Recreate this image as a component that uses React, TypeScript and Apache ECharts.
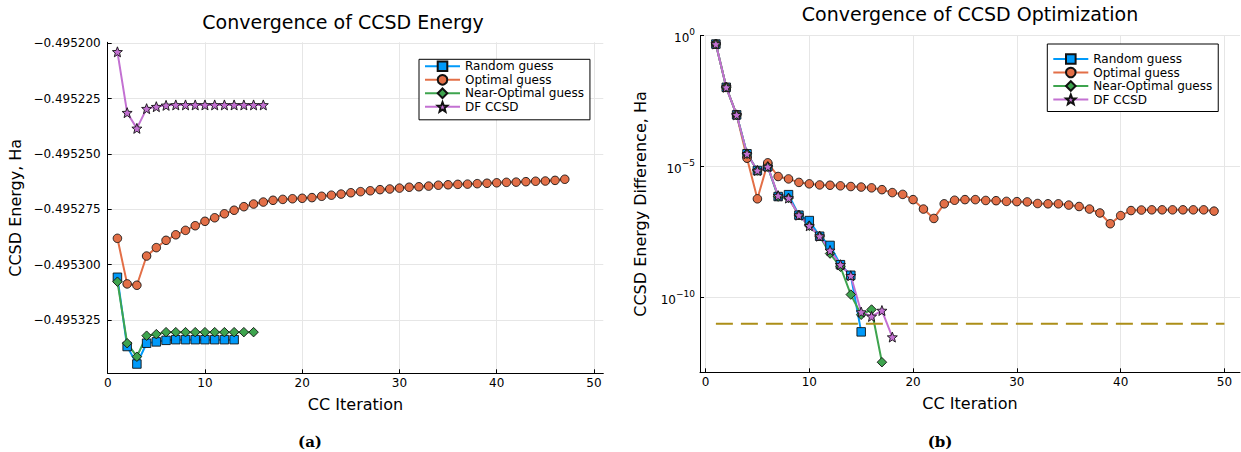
import { useEffect, useRef } from "react";
import * as echarts from "echarts";

// ---- CCSD energy per iteration (Ha) ----
const energyRandom = [
  -0.4953057, -0.495337, -0.4953449, -0.4953355, -0.4953349, -0.4953342, -0.4953339,
  -0.4953339, -0.4953339, -0.4953339, -0.4953339, -0.4953339, -0.4953339,
];
const energyOptimal = [
  -0.4952881, -0.4953087, -0.4953093, -0.4952961, -0.4952923, -0.495289, -0.4952865,
  -0.4952845, -0.4952824, -0.4952804, -0.4952788, -0.495277, -0.4952754, -0.4952738,
  -0.4952726, -0.4952717, -0.4952709, -0.4952705, -0.4952702, -0.49527, -0.4952697,
  -0.4952691, -0.4952686, -0.4952681, -0.4952675, -0.495267, -0.4952666, -0.4952661,
  -0.4952658, -0.4952654, -0.495265, -0.4952648, -0.4952645, -0.4952641, -0.4952639,
  -0.4952637, -0.4952636, -0.4952634, -0.4952632, -0.495263, -0.4952628, -0.4952627,
  -0.4952625, -0.4952623, -0.4952622, -0.4952619, -0.4952614,
];
const energyNearOptimal = [
  -0.4953077, -0.4953355, -0.4953416, -0.4953321, -0.4953314, -0.4953305, -0.4953305,
  -0.4953305, -0.4953305, -0.4953305, -0.4953305, -0.4953305, -0.4953305, -0.4953305,
  -0.4953305,
];
const energyDF = [
  -0.4952038, -0.4952313, -0.4952384, -0.4952295, -0.4952286, -0.495228, -0.4952278,
  -0.4952278, -0.4952278, -0.4952278, -0.4952278, -0.4952278, -0.4952278, -0.4952278,
  -0.4952278, -0.4952278,
];

// ---- energy difference between successive iterations (Ha) ----
const diffRandom = [
  4.8e-1, 1.07e-2, 9.5e-4, 3.1e-5, 7.1e-6, 1.0e-5, 7.2e-7, 8.5e-7, 1.4e-7, 8.7e-8,
  2.2e-8, 9.8e-9, 1.8e-9, 7.1e-10, 4.9e-12,
];
const diffOptimal = [
  4.8e-1, 1.07e-2, 9.5e-4, 2.1e-5, 5.9e-7, 1.4e-5, 4.2e-6, 3.4e-6, 2.5e-6, 2.2e-6,
  2.0e-6, 1.95e-6, 1.85e-6, 1.74e-6, 1.66e-6, 1.55e-6, 1.32e-6, 1.02e-6, 8.7e-7, 5.5e-7,
  2.4e-7, 1.05e-7, 3.8e-7, 5.2e-7, 5.5e-7, 5.5e-7, 5.1e-7, 5.0e-7, 4.7e-7, 4.6e-7,
  4.5e-7, 3.9e-7, 3.8e-7, 3.8e-7, 3.4e-7, 3.0e-7, 2.4e-7, 1.7e-7, 6.6e-8, 1.35e-7,
  2.1e-7, 2.2e-7, 2.24e-7, 2.24e-7, 2.24e-7, 2.24e-7, 2.24e-7, 2.24e-7, 2.0e-7,
];
const diffNearOptimal = [
  4.8e-1, 1.07e-2, 9.5e-4, 3.1e-5, 7.1e-6, 1.0e-5, 7.2e-7, 6.3e-7, 1.4e-7, 5.5e-8,
  2.2e-8, 4.8e-9, 1.5e-9, 1.3e-10, 2.2e-11, 3.5e-11, 3.4e-13,
];
const diffDF = [
  4.8e-1, 1.07e-2, 9.5e-4, 3.1e-5, 7.1e-6, 1.0e-5, 7.8e-7, 6.3e-7, 1.4e-7, 5.5e-8,
  2.2e-8, 6.3e-9, 1.8e-9, 6.8e-10, 2.8e-11, 1.9e-11, 3.2e-11, 3.1e-12,
];
const convergenceThreshold = 1e-11;
const thresholdIterations = [1, 50];

// ---- ticks ----
const iterationTicks = [0, 10, 20, 30, 40, 50];
const energyTicks = [-0.4952, -0.495225, -0.49525, -0.495275, -0.4953, -0.495325];
const diffTicks = [1e-10, 1e-5, 1];

const seriesNames = ["Random guess", "Optimal guess", "Near-Optimal guess", "DF CCSD"];
const colors = ["#009AFA", "#E36F47", "#3EA44E", "#C371D2"];
const thresholdColor = "#AC8E18";

const STAR =
  "path://M0,-10L2.6,-3.4L9.5,-3.1L4.1,1.3L5.9,8.1L0,4.3L-5.9,8.1L-4.1,1.3L-9.5,-3.1L-2.6,-3.4Z";
const symbols = ["rect", "circle", "diamond", STAR];
const symbolSizes = [8.5, 8.5, 9.5, 10];

const FONT = "DejaVu Sans";

const toPoints = (vals: number[]) => vals.map((v, i) => [i + 1, v]);

const minusSign = (s: string) => s.replace("-", "\u2212");

function makeSeries(idx: number, vals: number[], axis: number) {
  return {
    name: seriesNames[idx],
    type: "line",
    xAxisIndex: axis,
    yAxisIndex: axis,
    data: toPoints(vals),
    symbol: symbols[idx],
    symbolSize: symbolSizes[idx],
    showAllSymbol: true,
    lineStyle: { color: colors[idx], width: 2 },
    itemStyle: { color: colors[idx], borderColor: "#111", borderWidth: 0.9 },
    emphasis: { disabled: true },
  };
}

const axisCommon = {
  axisLine: { show: true, onZero: false, lineStyle: { color: "#000", width: 1 } },
  axisTick: { show: true, inside: true, length: 4, lineStyle: { color: "#000" } },
  splitLine: { show: true, lineStyle: { color: "#e6e6e6", width: 1 } },
};

const legendCommon = {
  data: seriesNames,
  orient: "vertical",
  itemWidth: 35,
  itemHeight: 12,
  itemGap: 1.5,
  borderColor: "#000",
  borderWidth: 1,
  borderRadius: 0,
  backgroundColor: "#fff",
  textStyle: { fontFamily: FONT, fontSize: 12, color: "#000" },
  selectedMode: false,
};

const captionStyle = (text: string) => ({
  text,
  fontFamily: "DejaVu Serif",
  fontSize: 15,
  fontWeight: "bold",
  fill: "#000",
  align: "center",
  verticalAlign: "middle",
});

function buildOption() {
  return {
    animation: false,
    backgroundColor: "#fff",
    textStyle: { fontFamily: FONT },
    title: [
      {
        text: "Convergence of CCSD Energy",
        left: 343,
        top: 12,
        textAlign: "center",
        padding: 0,
        textStyle: { fontFamily: FONT, fontSize: 19, fontWeight: "normal", color: "#000" },
      },
      {
        text: "Convergence of CCSD Optimization",
        left: 970,
        top: 4,
        textAlign: "center",
        padding: 0,
        textStyle: { fontFamily: FONT, fontSize: 19, fontWeight: "normal", color: "#000" },
      },
    ],
    legend: [
      { ...legendCommon, left: 419, top: 59.3, padding: [1, 6, 7, 5] },
      { ...legendCommon, left: 1047.3, top: 44, padding: [9, 6, 6, 5] },
    ],
    grid: [
      { left: 107.7, top: 42.3, width: 495.6, height: 331 },
      { left: 700, top: 35.7, width: 540, height: 336.6 },
    ],
    xAxis: [
      {
        ...axisCommon,
        type: "value",
        gridIndex: 0,
        min: 0,
        max: 50.96,
        name: "CC Iteration",
        nameLocation: "middle",
        nameGap: 23,
        nameTextStyle: { fontFamily: FONT, fontSize: 16, color: "#000" },
        axisTick: { ...axisCommon.axisTick, customValues: iterationTicks },
        axisLabel: {
          customValues: iterationTicks,
          fontFamily: FONT,
          fontSize: 12,
          color: "#000",
          margin: 4,
        },
      },
      {
        ...axisCommon,
        type: "value",
        gridIndex: 1,
        min: -0.53,
        max: 51.5,
        name: "CC Iteration",
        nameLocation: "middle",
        nameGap: 23,
        nameTextStyle: { fontFamily: FONT, fontSize: 16, color: "#000" },
        axisTick: { ...axisCommon.axisTick, customValues: iterationTicks },
        axisLabel: {
          customValues: iterationTicks,
          fontFamily: FONT,
          fontSize: 12,
          color: "#000",
          margin: 4,
        },
      },
    ],
    yAxis: [
      {
        ...axisCommon,
        type: "value",
        gridIndex: 0,
        min: -0.4953491,
        max: -0.4951995,
        name: "CCSD Energy, Ha",
        nameLocation: "middle",
        nameGap: 84,
        nameTextStyle: { fontFamily: FONT, fontSize: 16, color: "#000" },
        axisTick: { ...axisCommon.axisTick, customValues: energyTicks },
        axisLabel: {
          customValues: energyTicks,
          fontFamily: FONT,
          fontSize: 12,
          color: "#000",
          margin: 7,
          formatter: (v: number) => minusSign(v.toFixed(6)),
        },
      },
      {
        ...axisCommon,
        type: "log",
        logBase: 10,
        gridIndex: 1,
        min: 1.4e-13,
        max: 1,
        name: "CCSD Energy Difference, Ha",
        nameLocation: "middle",
        nameGap: 52,
        nameTextStyle: { fontFamily: FONT, fontSize: 16, color: "#000" },
        axisTick: { ...axisCommon.axisTick, customValues: diffTicks },
        axisLabel: {
          customValues: diffTicks,
          fontFamily: FONT,
          color: "#000",
          margin: 5,
          formatter: (v: number) => {
            const e = Math.round(Math.log10(v));
            return `{b|10}{s|${e === 0 ? "0" : "\u2212" + Math.abs(e)}}`;
          },
          rich: {
            b: { fontFamily: FONT, fontSize: 12, color: "#000", lineHeight: 16, verticalAlign: "bottom" },
            s: { fontFamily: FONT, fontSize: 9, color: "#000", lineHeight: 16, verticalAlign: "top" },
          },
        },
      },
    ],
    series: [
      makeSeries(0, energyRandom, 0),
      makeSeries(1, energyOptimal, 0),
      makeSeries(2, energyNearOptimal, 0),
      makeSeries(3, energyDF, 0),
      makeSeries(0, diffRandom, 1),
      makeSeries(1, diffOptimal, 1),
      makeSeries(2, diffNearOptimal, 1),
      makeSeries(3, diffDF, 1),
      {
        name: "threshold",
        type: "line",
        xAxisIndex: 1,
        yAxisIndex: 1,
        data: thresholdIterations.map((x) => [x, convergenceThreshold]),
        symbol: "none",
        lineStyle: { color: thresholdColor, width: 2, type: [17, 8] },
        emphasis: { disabled: true },
      },
    ],
    graphic: [
      { type: "text", x: 310, y: 442, style: captionStyle("(a)") },
      { type: "text", x: 940, y: 442, style: captionStyle("(b)") },
    ],
  };
}

export default function App() {
  const ref = useRef<HTMLDivElement>(null);
  useEffect(() => {
    if (!ref.current) return;
    const chart = echarts.init(ref.current, null, { renderer: "svg" });
    chart.setOption(buildOption() as any);
    return () => chart.dispose();
  }, []);
  return (
    <div
      ref={ref}
      style={{ position: "absolute", left: 0, top: 0, width: 1241, height: 452, background: "#fff" }}
    />
  );
}
